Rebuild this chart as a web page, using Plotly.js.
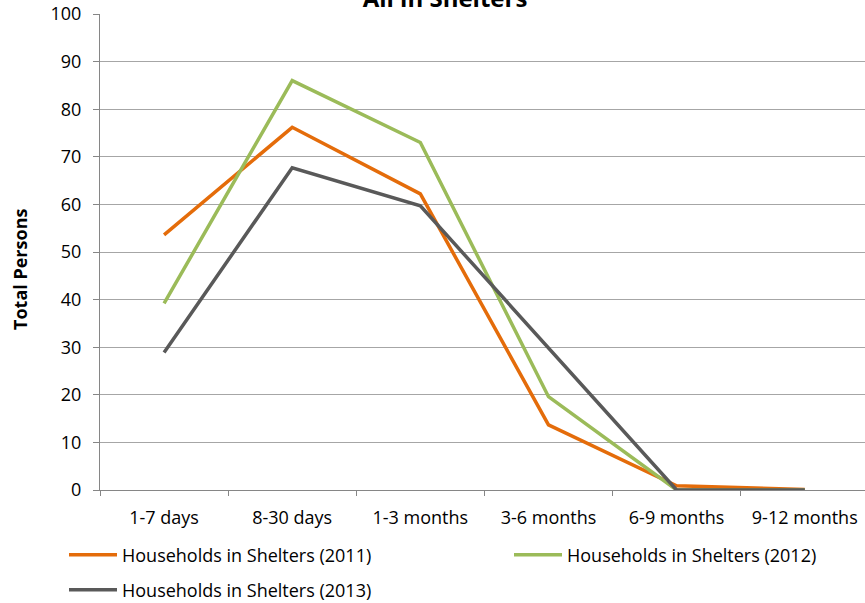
<!DOCTYPE html>
<html>
<head>
<meta charset="utf-8">
<script src="https://cdn.plot.ly/plotly-3.0.1.min.js"></script>
<style>html,body{margin:0;padding:0;background:#fff;}#chart{width:865px;height:603px;}</style>
</head>
<body>
<div id="chart"></div>
<script>
var categories = ["1-7 days", "8-30 days", "1-3 months", "3-6 months", "6-9 months", "9-12 months"];
var seriesNames = ["Households in Shelters (2011)", "Households in Shelters (2012)", "Households in Shelters (2013)"];
var values2011 = [53.6, 76.2, 62.2, 13.7, 0.9, 0.1];
var values2012 = [39.2, 86.0, 73.0, 19.6, 0.0, 0.0];
var values2013 = [28.9, 67.7, 59.7, 29.8, 0.0, 0.0];
var yTicks = [0, 10, 20, 30, 40, 50, 60, 70, 80, 90, 100];
var chartTitle = "All in Shelters";
var yTitle = "Total Persons";

var FONT = '"Open Sans", sans-serif';
var colors = ["#E46C0A", "#9BBB59", "#595959"];

function tr(name, vals, color, legend) {
  return {
    type: "scatter", mode: "lines", name: name,
    x: categories, y: vals,
    line: {color: color, width: 3.5},
    legend: legend
  };
}

var data = [
  tr(seriesNames[0], values2011, colors[0], "legend"),
  tr(seriesNames[1], values2012, colors[1], "legend3"),
  tr(seriesNames[2], values2013, colors[2], "legend2")
];

function px2x(p) { return (p - 100) / 765; }
function px2y(p) { return (490 - p) / 476; }

function leg(xpx, ypx) {
  return {
    orientation: "h", x: px2x(xpx), xanchor: "left",
    y: px2y(ypx), yanchor: "middle",
    itemwidth: 48,
    font: {family: FONT, size: 18, color: "#000"},
    bgcolor: "rgba(0,0,0,0)", borderwidth: 0
  };
}

var layout = {
  width: 865, height: 603,
  margin: {l: 100, r: 0, t: 14, b: 113, pad: 0, autoexpand: false},
  paper_bgcolor: "#fff", plot_bgcolor: "#fff",
  font: {family: FONT, size: 18, color: "#000"},
  title: {
    text: "<b>" + chartTitle + "</b>",
    font: {family: FONT, size: 24, color: "#000"},
    x: 445 / 865, xanchor: "center",
    y: 1 - 7 / 603, yanchor: "bottom", yref: "container"
  },
  xaxis: {
    type: "category",
    range: [-0.5, 5.47],
    showgrid: false,
    showline: true, linecolor: "#868686", linewidth: 1,
    ticks: "outside", tickson: "boundaries", ticklen: 5, tickcolor: "#868686",
    ticklabelstandoff: 11,
    tickfont: {family: FONT, size: 18, color: "#000"},
    zeroline: false, fixedrange: true
  },
  yaxis: {
    range: [0, 100],
    tickvals: yTicks,
    ticktext: yTicks.map(String),
    showgrid: true, gridcolor: "#A6A6A6", gridwidth: 1,
    showline: true, linecolor: "#868686", linewidth: 1,
    ticks: "outside", ticklen: 6, tickcolor: "#868686",
    ticklabelstandoff: 8,
    tickfont: {family: FONT, size: 18, color: "#000"},
    zeroline: false, fixedrange: true
  },
  annotations: [{
    text: "<b>" + yTitle + "</b>",
    xref: "paper", yref: "paper",
    x: px2x(20), y: px2y(270),
    xanchor: "center", yanchor: "middle",
    textangle: -90, showarrow: false,
    font: {family: FONT, size: 18, color: "#000"}
  }],
  showlegend: true,
  legend: leg(64, 555),
  legend3: leg(509, 555),
  legend2: leg(64, 590)
};

Plotly.newPlot("chart", data, layout, {displayModeBar: false, staticPlot: true});
</script>
</body>
</html>
